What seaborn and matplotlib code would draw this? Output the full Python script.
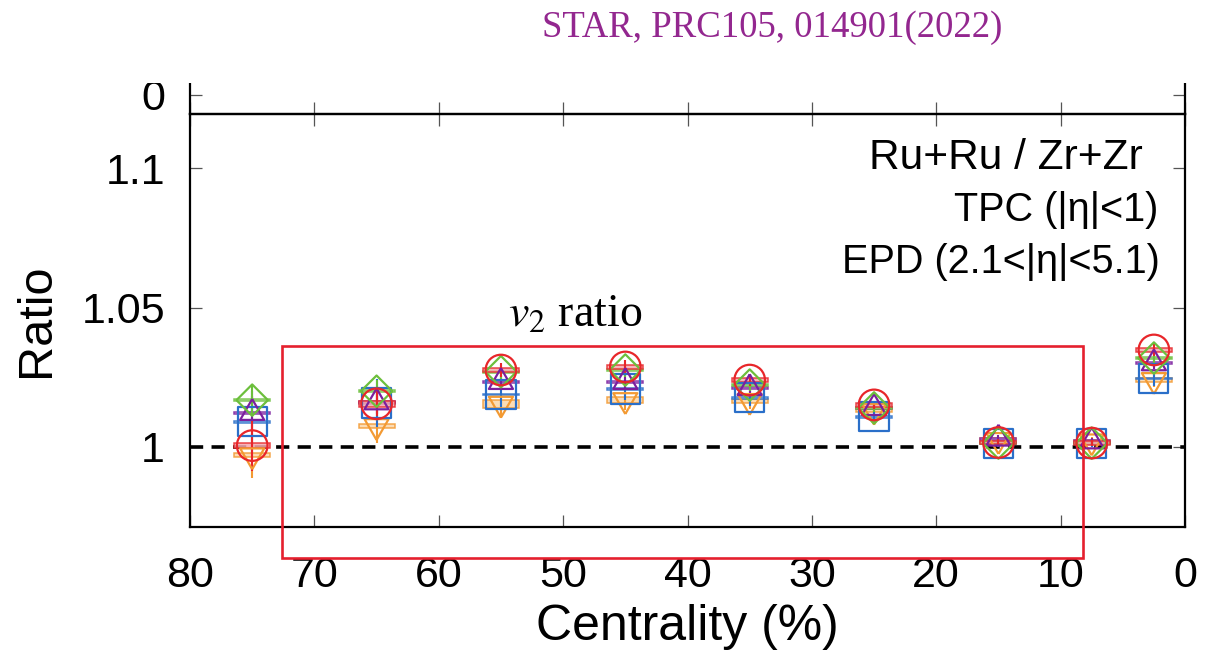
import numpy as np
import matplotlib
matplotlib.use("Agg")
import matplotlib.pyplot as plt
from matplotlib.patches import Rectangle
from matplotlib.markers import MarkerStyle
import seaborn as sns

# ---------------- data ----------------
centrality = [75, 65, 55, 45, 35, 25, 15, 7.5, 2.5]

ratio_red    = [1.0005, 1.0155, 1.0276, 1.0287, 1.0240, 1.0151, 1.0016, 1.0014, 1.0348]
ratio_purple = [1.0122, 1.0160, 1.0233, 1.0233, 1.0211, 1.0140, 1.0030, 1.0020, 1.0300]
ratio_green  = [1.0168, 1.0200, 1.0270, 1.0276, 1.0222, 1.0140, 1.0014, 1.0014, 1.0319]
ratio_blue   = [1.0090, 1.0158, 1.0188, 1.0208, 1.0176, 1.0108, 1.0014, 1.0014, 1.0245]
ratio_orange = [0.9970, 1.0075, 1.0155, 1.0168, 1.0165, 1.0130, 1.0025, 1.0020, 1.0240]

stat_red    = [0.0090, 0.0045, 0.0025, 0.0025, 0.0020, 0.0015, 0.0012, 0.0012, 0.0020]
stat_purple = [0.0060, 0.0040, 0.0025, 0.0025, 0.0020, 0.0015, 0.0012, 0.0012, 0.0020]
stat_green  = [0.0050, 0.0040, 0.0025, 0.0025, 0.0020, 0.0015, 0.0012, 0.0012, 0.0020]
stat_blue   = [0.0110, 0.0085, 0.0045, 0.0040, 0.0030, 0.0020, 0.0015, 0.0015, 0.0025]
stat_orange = [0.0080, 0.0060, 0.0040, 0.0035, 0.0030, 0.0020, 0.0015, 0.0015, 0.0025]

sys_red    = [0.0010, 0.0010, 0.0008, 0.0008, 0.0006, 0.0006, 0.0006, 0.0006, 0.0008]
sys_purple = [0.0004, 0.0004, 0.0004, 0.0004, 0.0004, 0.0004, 0.0004, 0.0004, 0.0004]
sys_green  = [0.0004, 0.0004, 0.0004, 0.0004, 0.0004, 0.0004, 0.0004, 0.0004, 0.0004]
sys_blue   = [0.0003, 0.0003, 0.0003, 0.0003, 0.0003, 0.0003, 0.0003, 0.0003, 0.0003]
sys_orange = [0.0007, 0.0007, 0.0014, 0.0011, 0.0007, 0.0006, 0.0006, 0.0006, 0.0007]

series_names = ["orange", "blue", "purple", "green", "red"]

x_ticks = [80, 70, 60, 50, 40, 30, 20, 10, 0]
y_ticks = [1.0, 1.05, 1.1]
y_ticklabels = ["1", "1.05", "1.1"]

# ---------------- style ----------------
sns.set_theme(style="ticks")
plt.rcParams["font.family"] = ["Liberation Sans", "DejaVu Sans"]
plt.rcParams["mathtext.fontset"] = "stix"
plt.rcParams["lines.scale_dashes"] = False
for k in ("text.color", "axes.labelcolor", "xtick.labelcolor", "ytick.labelcolor"):
    plt.rcParams[k] = "black"

colors = {"red": "#e8262a", "purple": "#7b1f9e", "green": "#6cbf3c",
          "blue": "#2a6fc9", "orange": "#f39a33"}
fills = {"red": "#f6a7ae", "purple": "#d9b9e6", "green": "#cbe8b8",
         "blue": "#b9d0f0", "orange": "#fbd6a8"}

h = np.sqrt(3) / 2
tri_up = MarkerStyle([(0, 2 * h / 3), (-0.5, -h / 3), (0.5, -h / 3), (0, 2 * h / 3)])
tri_dn = MarkerStyle([(0, -2 * h / 3), (-0.5, h / 3), (0.5, h / 3), (0, -2 * h / 3)])
markers = {"red": "o", "purple": tri_up, "green": "D", "blue": "s", "orange": tri_dn}
sizes = {"red": 22.0, "purple": 20.0, "green": 16.0, "blue": 21.0, "orange": 20.0}

data = {
    "red": (ratio_red, stat_red, sys_red),
    "purple": (ratio_purple, stat_purple, sys_purple),
    "green": (ratio_green, stat_green, sys_green),
    "blue": (ratio_blue, stat_blue, sys_blue),
    "orange": (ratio_orange, stat_orange, sys_orange),
}

W, H = 1206, 650
fig = plt.figure(figsize=(W / 100, H / 100), dpi=100)
ax = fig.add_axes([190 / W, 1 - 527 / H, 995 / W, 413 / H])
axt = fig.add_axes([190 / W, 1 - 114 / H, 995 / W, 31 / H])

ax.set_xlim(80, 0)
ax.set_ylim(0.97131, 1.1194)

# dashed reference line
ax.axhline(1.0, color="black", lw=2.6, ls=(0, (9.5, 6)), zorder=1)

box_half_w = 1.45
for name in series_names:
    vals, stat, sys_ = data[name]
    c = colors[name]
    # systematic boxes
    for xc, v, s in zip(centrality, vals, sys_):
        ax.add_patch(Rectangle((xc - box_half_w, v - s), 2 * box_half_w, 2 * s,
                               facecolor=fills[name], edgecolor=c, lw=1.1,
                               alpha=0.85, zorder=2))
    ax.errorbar(centrality, vals, yerr=stat, fmt="none", ecolor=c,
                elinewidth=1.5, capsize=0, zorder=3)
    sns.scatterplot(x=centrality, y=vals, ax=ax, marker=markers[name],
                    s=sizes[name] ** 2, facecolor="none", edgecolor=c,
                    color=c, linewidth=1.6, zorder=4, legend=False)

# axes styling
for a in (ax, axt):
    for sp in a.spines.values():
        sp.set_linewidth(1.6)
        sp.set_color("black")

ax.set_xticks(x_ticks)
ax.set_xticklabels([str(t) for t in x_ticks])
ax.set_yticks(y_ticks)
ax.set_yticklabels(y_ticklabels)
ax.tick_params(axis="both", direction="in", length=8.5, width=0.9,
               color="#555555", labelcolor="black", labelsize=31, top=True, right=True)
ax.tick_params(axis="x", pad=21)
ax.tick_params(axis="y", pad=18)
ax.set_xlabel("Centrality (%)", fontsize=36, labelpad=6, color="black")
ax.set_ylabel("Ratio", fontsize=35, labelpad=16, color="black")

# upper strip (neighbouring panel edge)
axt.set_xlim(80, 0)
axt.set_ylim(0, 1)
axt.spines["top"].set_visible(False)
axt.set_xticks(x_ticks)
axt.set_xticklabels([])
axt.set_yticks([0.62])
axt.set_yticklabels(["0"])
axt.tick_params(axis="both", direction="in", length=8.5, width=0.9,
                color="#555555", labelcolor="black", labelsize=31, right=True)
axt.tick_params(axis="y", pad=18)
axt.patch.set_alpha(0)

# annotations
ax.text(49.0, 1.0473, r"$v_2$ ratio", ha="center", va="center", fontsize=33,
        family=["Liberation Serif", "DejaVu Serif"], color="black")
fig.text(1143 / W, 1 - 158 / H, "Ru+Ru / Zr+Zr", ha="right", va="center",
         fontsize=30.5, color="black")
fig.text(1158 / W, 1 - 210 / H, "TPC (|η|<1)", ha="right", va="center",
         fontsize=28.5, color="black")
fig.text(1160 / W, 1 - 262 / H, "EPD (2.1<|η|<5.1)", ha="right", va="center",
         fontsize=28.5, color="black")

# red highlight box
ax.add_patch(Rectangle((72.6, 0.9602), 8.22 - 72.6, 1.0362 - 0.9602, fill=False,
                       edgecolor="#e5202e", lw=1.9, clip_on=False, zorder=6))

# crop the upper region like the reference
fig.patches.append(Rectangle((0, 1 - 83 / H), 1, 83 / H, transform=fig.transFigure,
                             facecolor="white", edgecolor="none", zorder=10))
fig.text(772 / W, 1 - 28 / H, "STAR, PRC105, 014901(2022)", ha="center", va="center",
         fontsize=26.5, color="#93278f", family=["Liberation Serif", "DejaVu Serif"],
         zorder=11)

fig.savefig("out.png", dpi=100)
